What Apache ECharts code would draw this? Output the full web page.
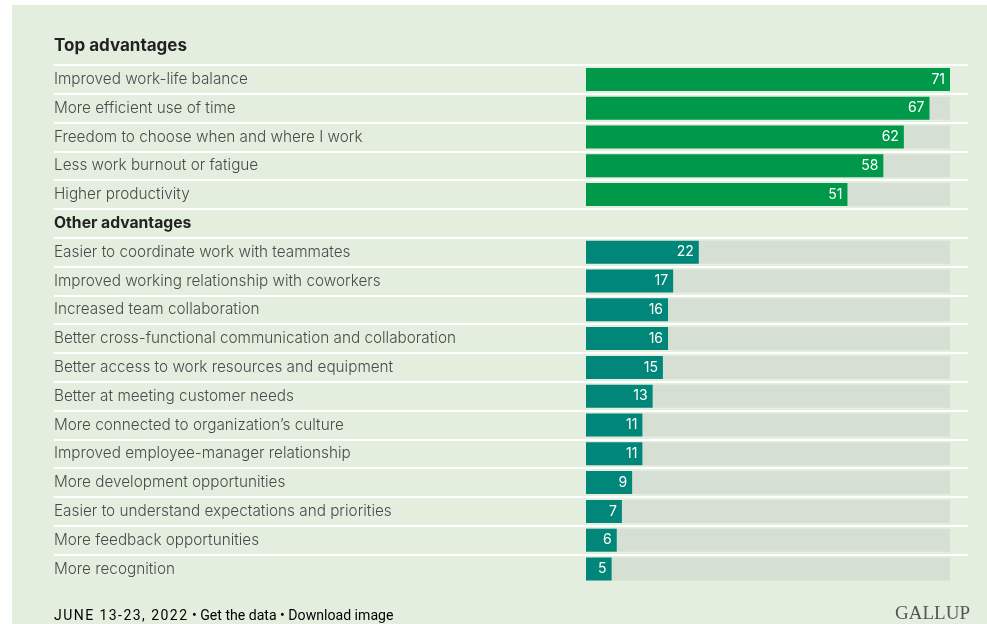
<!DOCTYPE html>
<html>
<head>
<meta charset="utf-8">
<style>
  html, body { margin: 0; padding: 0; background: #ffffff; }
  #chart { width: 987px; height: 624px; }
</style>
<script src="https://cdn.jsdelivr.net/npm/echarts@6/dist/echarts.min.js"></script>
</head>
<body>
<div id="chart"></div>
<script>
// Section headings and their items
const topHeading = 'Top advantages';
const otherHeading = 'Other advantages';
const topLabels = [
  'Improved work-life balance',
  'More efficient use of time',
  'Freedom to choose when and where I work',
  'Less work burnout or fatigue',
  'Higher productivity'
];
const topValues = [71, 67, 62, 58, 51];
const otherLabels = [
  'Easier to coordinate work with teammates',
  'Improved working relationship with coworkers',
  'Increased team collaboration',
  'Better cross-functional communication and collaboration',
  'Better access to work resources and equipment',
  'Better at meeting customer needs',
  'More connected to organization\u2019s culture',
  'Improved employee-manager relationship',
  'More development opportunities',
  'Easier to understand expectations and priorities',
  'More feedback opportunities',
  'More recognition'
];
const otherValues = [22, 17, 16, 16, 15, 13, 11, 11, 9, 7, 6, 5];
const scaleMax = 71;

const footerDate = 'JUNE 13-23, 2022';
const footerLinks = ' \u2022 Get the data \u2022 Download image';
const brand = 'GALLUP';

// Build the row list: heading rows carry no bar
const rows = [topHeading].concat(topLabels, [otherHeading], otherLabels);
const headings = new Set([topHeading, otherHeading]);
const topBars = [null].concat(topValues, [null], otherValues.map(() => null)).map(v => v == null ? '-' : v);
const otherBars = [null].concat(topValues.map(() => null), [null], otherValues).map(v => v == null ? '-' : v);
const track = rows.map(r => headings.has(r) ? '-' : scaleMax);

const GREEN = '#00994a';
const TEAL = '#00877a';
const TRACK = '#d6dfd3';
const PANEL = '#e3eedf';

const rowTop = 36.2;
const rowsHeight = 28.8 * rows.length;

// Spaced-out capitals for the date: one rich token per character
const dateRich = footerDate.split('').map(c => '{d|' + c + '}').join('');

const chart = echarts.init(document.getElementById('chart'), null, { renderer: 'canvas' });

const valueLabel = {
  show: true,
  position: 'insideRight',
  distance: 5,
  color: '#ffffff',
  fontFamily: 'Inter',
  fontSize: 14,
  fontWeight: 400
};

chart.setOption({
  backgroundColor: '#ffffff',
  animation: false,
  graphic: [
    {
      type: 'rect', z: -10, silent: true,
      shape: { x: 12, y: 5, width: 975, height: 619 },
      style: { fill: PANEL }
    },
    {
      type: 'text', left: 54, top: 609,
      style: {
        text: dateRich + '{l|' + footerLinks + '}',
        rich: {
          d: { fontFamily: 'Roboto', fontSize: 14, color: '#636363', padding: [0, 1.45, 0, 0] },
          l: { fontFamily: 'Roboto', fontSize: 14.1, color: '#636363' }
        }
      }
    },
    {
      type: 'text', right: 17, top: 605,
      style: { text: brand, fontFamily: 'Liberation Serif', fontSize: 19, fill: '#555555' }
    }
  ],
  grid: [
    { left: 54, right: 19, top: rowTop, height: rowsHeight },
    { left: 586, right: 37, top: rowTop, height: rowsHeight }
  ],
  xAxis: [
    { gridIndex: 0, type: 'value', min: 0, max: 1, show: false },
    { gridIndex: 1, type: 'value', min: 0, max: scaleMax, show: false }
  ],
  yAxis: [
    {
      gridIndex: 0, type: 'category', data: rows, inverse: true,
      axisLine: { show: false }, axisTick: { show: false },
      splitLine: { show: true, showMinLine: false, showMaxLine: false, lineStyle: { color: '#ffffff', width: 2 } },
      axisLabel: {
        inside: true, margin: 0,
        formatter: v => v === topHeading ? '{t|' + v + '}'
          : headings.has(v) ? '{h|' + v + '}' : '{n|' + v + '}',
        rich: {
          t: { fontFamily: 'Inter', fontSize: 17, fontWeight: 'bold', color: '#222222', padding: [0, 0, 10, 0] },
          h: { fontFamily: 'Inter', fontSize: 15.7, fontWeight: 'bold', color: '#222222' },
          n: { fontFamily: 'Inter', fontSize: 15.3, fontWeight: 300, color: '#4a4a4a' }
        }
      }
    },
    {
      gridIndex: 1, type: 'category', data: rows, inverse: true,
      axisLine: { show: false }, axisTick: { show: false }, axisLabel: { show: false },
      splitLine: { show: false }
    }
  ],
  series: [
    {
      type: 'bar', xAxisIndex: 1, yAxisIndex: 1, data: track,
      barWidth: 23, barGap: '-100%', silent: true,
      itemStyle: { color: TRACK }, z: 1
    },
    {
      type: 'bar', xAxisIndex: 1, yAxisIndex: 1, data: topBars,
      barWidth: 23, barGap: '-100%', itemStyle: { color: GREEN },
      label: valueLabel, z: 2
    },
    {
      type: 'bar', xAxisIndex: 1, yAxisIndex: 1, data: otherBars,
      barWidth: 23, barGap: '-100%', itemStyle: { color: TEAL },
      label: valueLabel, z: 2
    }
  ]
});
</script>
</body>
</html>
